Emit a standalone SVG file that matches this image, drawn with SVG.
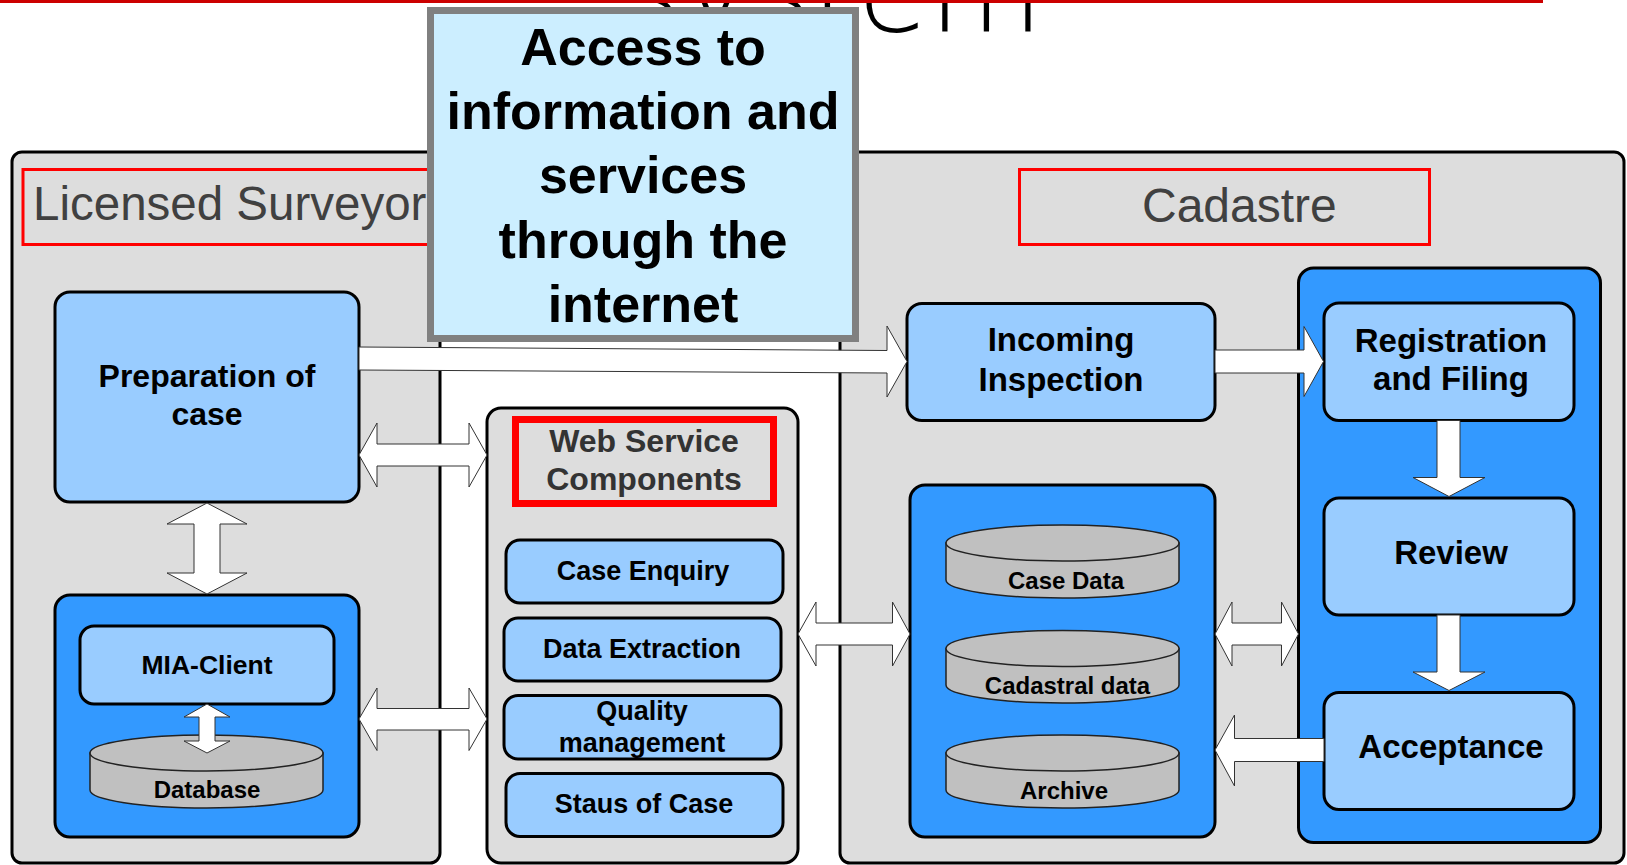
<svg xmlns="http://www.w3.org/2000/svg" width="1627" height="865" viewBox="0 0 1627 865">
<style>
.panel{fill:#dddddd;stroke:#000;stroke-width:3}
.lb{fill:#99ccff;stroke:#000;stroke-width:3}
.db{fill:#3399ff;stroke:#000;stroke-width:3}
.red{fill:none;stroke:#ff0000;stroke-width:3}
.arr{fill:#fff;stroke:#333;stroke-width:1}
.cyl{fill:#c0c0c0;stroke:#222;stroke-width:1.5}
.t{font-family:'Liberation Sans',Arial,sans-serif;font-weight:bold;fill:#000;text-anchor:middle}
.lab{font-family:'Liberation Sans',Arial,sans-serif;fill:#404040}
</style>
<rect width="1627" height="865" fill="#fff"/>
<text x="620" y="31" font-family="'DejaVu Sans ExtraLight','DejaVu Sans',sans-serif" font-weight="200" font-size="117" fill="#000">system</text>
<rect x="0" y="0" width="1543" height="3" fill="#cc0000"/>

<g id="panel-surveyor">
<rect class="panel" x="12" y="152" width="428" height="711" rx="10"/>
<rect class="red" x="23" y="169.5" width="412" height="75"/>
<text class="lab" x="33" y="220" font-size="47.5">Licensed Surveyor</text>
</g>
<g id="panel-cadastre">
<rect class="panel" x="840" y="152" width="784" height="711" rx="10"/>
<rect class="red" x="1019.5" y="169.5" width="410" height="75"/>
<text class="lab" x="1142" y="222" font-size="48">Cadastre</text>
</g>
<g id="panel-web">
<rect class="panel" x="487" y="408" width="311" height="455" rx="14"/>
<rect x="515.5" y="419.5" width="258" height="84" fill="none" stroke="#ff0000" stroke-width="7"/>
<text class="t" x="644" y="451.5" font-size="32" fill="#333" style="fill:#333">Web Service</text>
<text class="t" x="644" y="490" font-size="32" style="fill:#333">Components</text>
</g>

<g id="prep">
<rect class="lb" x="55" y="292" width="304" height="210" rx="15"/>
<text class="t" x="207" y="387" font-size="32">Preparation of</text>
<text class="t" x="207" y="425" font-size="32">case</text>
</g>
<g id="mia-block">
<rect class="db" x="55" y="595" width="304" height="242" rx="15"/>
</g>
<g id="mia-client">
<rect class="lb" x="80" y="626" width="254" height="78" rx="14"/>
<text class="t" x="207" y="674" font-size="26.5">MIA-Client</text>
</g>
<g id="database">
<path class="cyl" d="M90,753 L90,790 A116.5,18 0 0 0 323,790 L323,753 Z"/>
<ellipse class="cyl" cx="206.5" cy="753" rx="116.5" ry="18"/>
<text class="t" x="207" y="798" font-size="24">Database</text>
</g>

<g id="case-enquiry">
<rect class="lb" x="506" y="540" width="277" height="63" rx="14"/>
<text class="t" x="643" y="580" font-size="27">Case Enquiry</text>
</g>
<g id="data-extraction">
<rect class="lb" x="504" y="618" width="277" height="63" rx="14"/>
<text class="t" x="642" y="657.5" font-size="27">Data Extraction</text>
</g>
<g id="quality">
<rect class="lb" x="504" y="695.5" width="277" height="63.5" rx="14"/>
<text class="t" x="642" y="720" font-size="27">Quality</text>
<text class="t" x="642" y="751.5" font-size="27">management</text>
</g>
<g id="status">
<rect class="lb" x="506" y="773.5" width="277" height="63" rx="14"/>
<text class="t" x="644" y="812.5" font-size="27">Staus of Case</text>
</g>

<g id="incoming">
<rect class="lb" x="907" y="303.5" width="308" height="117" rx="15"/>
<text class="t" x="1061" y="351" font-size="33">Incoming</text>
<text class="t" x="1061" y="390.5" font-size="33">Inspection</text>
</g>
<g id="data-block">
<rect class="db" x="910" y="485" width="305" height="352" rx="15"/>
</g>
<g id="case-data">
<path class="cyl" d="M946,543 L946,580 A116.5,18 0 0 0 1179,580 L1179,543 Z"/>
<ellipse class="cyl" cx="1062.5" cy="543" rx="116.5" ry="18"/>
<text class="t" x="1066" y="589" font-size="24">Case Data</text>
</g>
<g id="cadastral-data">
<path class="cyl" d="M946,648.5 L946,685 A116.5,18 0 0 0 1179,685 L1179,648.5 Z"/>
<ellipse class="cyl" cx="1062.5" cy="648.5" rx="116.5" ry="18"/>
<text class="t" x="1067.5" y="693.5" font-size="24">Cadastral data</text>
</g>
<g id="archive">
<path class="cyl" d="M946,753 L946,790 A116.5,18 0 0 0 1179,790 L1179,753 Z"/>
<ellipse class="cyl" cx="1062.5" cy="753" rx="116.5" ry="18"/>
<text class="t" x="1064" y="798.5" font-size="24">Archive</text>
</g>
<g id="workflow-block">
<rect class="db" x="1298.5" y="268" width="302" height="574.5" rx="15"/>
</g>
<g id="registration">
<rect class="lb" x="1324" y="303" width="250" height="117.5" rx="15"/>
<text class="t" x="1451" y="351.5" font-size="33">Registration</text>
<text class="t" x="1451" y="390" font-size="33">and Filing</text>
</g>
<g id="review">
<rect class="lb" x="1324" y="498" width="250" height="117" rx="15"/>
<text class="t" x="1451" y="564" font-size="33">Review</text>
</g>
<g id="acceptance">
<rect class="lb" x="1324" y="692.5" width="250" height="117" rx="15"/>
<text class="t" x="1451" y="758" font-size="33">Acceptance</text>
</g>

<g id="connectors">
<polygon class="arr" points="359,455 377,423 377,444 469,444 469,423 487,455 469,487 469,466 377,466 377,487"/>
<polygon class="arr" points="359,719 377,688 377,708.5 469,708.5 469,688 487,719 469,750.5 469,730 377,730 377,750.5"/>
<polygon class="arr" points="207,503 247,524 220,524 220,573 247,573 207,594 167,573 194,573 194,524 167,524"/>
<polygon class="arr" points="207,704 230,717 215,717 215,741 230,741 207,753 184,741 199,741 199,717 184,717"/>
<polygon class="arr" points="359,347 887,350.5 887,326 907,361.5 887,397 887,373 359,370"/>
<polygon class="arr" points="1215,350 1304,350 1304,326.5 1323.5,361.5 1304,396.5 1304,373 1215,373"/>
<polygon class="arr" points="798,634 816,602 816,623 892.5,623 892.5,602 910,634 892.5,666 892.5,645 816,645 816,666"/>
<polygon class="arr" points="1215,634 1232,602 1232,623 1281.5,623 1281.5,602 1298.5,634 1281.5,666 1281.5,645 1232,645 1232,666"/>
<polygon class="arr" points="1215,750 1234.5,715 1234.5,738.5 1324,738.5 1324,761.5 1234.5,761.5 1234.5,786"/>
<polygon class="arr" points="1437,420.5 1460,420.5 1460,477.5 1485,477.5 1449,496.5 1413,477.5 1437,477.5"/>
<polygon class="arr" points="1437,615 1460,615 1460,672 1485,672 1449,690.5 1413,672 1437,672"/>
</g>

<g id="access">
<rect x="430.5" y="10.5" width="425" height="328" fill="#cceeff" stroke="#808080" stroke-width="7"/>
<text class="t" x="643" y="65" font-size="52">Access to</text>
<text class="t" x="643" y="129" font-size="52">information and</text>
<text class="t" x="643" y="193" font-size="52">services</text>
<text class="t" x="643" y="258" font-size="52">through the</text>
<text class="t" x="643" y="322" font-size="52">internet</text>
</g>
</svg>
